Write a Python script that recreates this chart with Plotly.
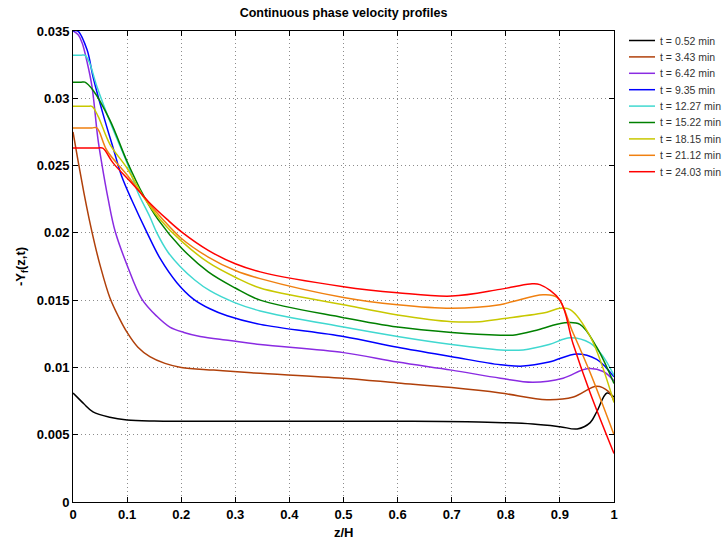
import plotly.graph_objects as go

# Legend labels (sampling times)
series_names = ["t = 0.52 min", "t = 3.43 min", "t = 6.42 min", "t = 9.35 min",
                "t = 12.27 min", "t = 15.22 min", "t = 18.15 min", "t = 21.12 min",
                "t = 24.03 min"]
series_colors = ["#000000", "#b0400a", "#8a2be2", "#0000ff", "#40d8d0",
                 "#008000", "#c8c800", "#f08010", "#ff0000"]

# Profiles: z/H positions and -Y_f(z,t) values for each time
z_052 = [0, 0.01, 0.02, 0.037, 0.068, 0.1, 0.15, 0.2, 0.4, 0.6, 0.75, 0.85, 0.9, 0.932, 0.956, 0.968, 0.987, 1.0]
v_052 = [0.0081, 0.0077, 0.0073, 0.0067, 0.0063, 0.0061, 0.00602, 0.006, 0.006, 0.006, 0.00595, 0.0058, 0.0056, 0.00543, 0.0059, 0.0067, 0.0081, 0.0078]

z_343 = [0, 0.01, 0.02, 0.03, 0.04, 0.05, 0.068, 0.085, 0.1, 0.12, 0.142, 0.17, 0.2, 0.26, 0.33, 0.5, 0.6, 0.7, 0.79, 0.876, 0.925, 0.968, 0.99, 1.0]
v_343 = [0.0275, 0.0252, 0.0230, 0.0210, 0.0192, 0.0176, 0.0152, 0.0137, 0.0126, 0.0115, 0.0108, 0.0103, 0.0100, 0.0098, 0.0096, 0.0092, 0.00885, 0.0085, 0.0081, 0.0076, 0.0078, 0.0086, 0.0082, 0.0075]

z_642 = [0, 0.01, 0.017, 0.026, 0.035, 0.046, 0.053, 0.065, 0.078, 0.1, 0.127, 0.155, 0.179, 0.205, 0.235, 0.29, 0.346, 0.5, 0.6, 0.7, 0.79, 0.85, 0.906, 0.95, 0.98, 1.0]
v_642 = [0.035, 0.0347, 0.0341, 0.0327, 0.0309, 0.027, 0.0252, 0.0225, 0.0201, 0.0176, 0.0151, 0.0138, 0.0130, 0.0126, 0.0123, 0.0120, 0.0117, 0.0111, 0.0104, 0.0098, 0.0092, 0.0089, 0.0092, 0.0099, 0.0097, 0.009]

z_935 = [0, 0.009, 0.026, 0.037, 0.055, 0.075, 0.09, 0.109, 0.137, 0.161, 0.192, 0.222, 0.253, 0.285, 0.346, 0.5, 0.6, 0.7, 0.79, 0.832, 0.88, 0.932, 0.968, 0.985, 1.0]
v_935 = [0.035, 0.035, 0.0336, 0.0316, 0.0289, 0.0262, 0.0242, 0.0224, 0.0200, 0.0181, 0.0163, 0.0151, 0.01436, 0.01384, 0.0132, 0.0123, 0.0115, 0.0108, 0.0102, 0.0101, 0.0104, 0.0110, 0.0106, 0.0100, 0.0093]

z_1227 = [0, 0.015, 0.022, 0.03, 0.044, 0.074, 0.1, 0.12, 0.142, 0.155, 0.175, 0.198, 0.225, 0.253, 0.3, 0.346, 0.5, 0.6, 0.7, 0.79, 0.832, 0.88, 0.919, 0.956, 0.98, 1.0]
v_1227 = [0.0332, 0.0332, 0.0332, 0.0327, 0.0309, 0.0277, 0.0252, 0.0230, 0.0212, 0.020, 0.0186, 0.0175, 0.0165, 0.0157, 0.0148, 0.0142, 0.0130, 0.0123, 0.0117, 0.0113, 0.0113, 0.0117, 0.0122, 0.0118, 0.0108, 0.0094]

z_1522 = [0, 0.015, 0.022, 0.037, 0.068, 0.1, 0.13, 0.157, 0.2, 0.25, 0.3, 0.346, 0.5, 0.6, 0.7, 0.79, 0.813, 0.86, 0.906, 0.937, 0.968, 1.0]
v_1522 = [0.0312, 0.0312, 0.0312, 0.0306, 0.0284, 0.0253, 0.0228, 0.021, 0.0189, 0.0171, 0.0159, 0.0150, 0.0137, 0.0130, 0.0126, 0.0124, 0.0124, 0.0128, 0.0133, 0.0132, 0.0115, 0.0088]

z_1815 = [0, 0.027, 0.035, 0.046, 0.068, 0.1, 0.13, 0.161, 0.2, 0.25, 0.3, 0.346, 0.5, 0.6, 0.7, 0.752, 0.79, 0.876, 0.9, 0.919, 0.956, 1.0]
v_1815 = [0.0294, 0.0294, 0.0294, 0.0287, 0.0266, 0.0248, 0.0227, 0.021, 0.0194, 0.0178, 0.0167, 0.0159, 0.01466, 0.0139, 0.0134, 0.0134, 0.0136, 0.0141, 0.0144, 0.0143, 0.0123, 0.0074]

z_2112 = [0, 0.035, 0.044, 0.063, 0.1, 0.13, 0.166, 0.2, 0.25, 0.3, 0.346, 0.5, 0.6, 0.7, 0.789, 0.813, 0.869, 0.895, 0.924, 0.956, 1.0]
v_2112 = [0.0278, 0.0278, 0.0278, 0.0261, 0.0243, 0.0227, 0.021, 0.0196, 0.0182, 0.0172, 0.0166, 0.0152, 0.01466, 0.0144, 0.01466, 0.0149, 0.0154, 0.0152, 0.0126, 0.0096, 0.005]

z_2403 = [0, 0.045, 0.055, 0.074, 0.111, 0.14, 0.174, 0.203, 0.25, 0.3, 0.346, 0.5, 0.6, 0.7, 0.789, 0.845, 0.863, 0.9, 0.924, 0.956, 1.0]
v_2403 = [0.0263, 0.0263, 0.0263, 0.0252, 0.0236, 0.0223, 0.021, 0.0200, 0.0187, 0.0177, 0.0171, 0.0160, 0.01555, 0.0153, 0.0158, 0.0162, 0.01615, 0.0150, 0.0118, 0.0081, 0.0036]

profiles_z = [z_052, z_343, z_642, z_935, z_1227, z_1522, z_1815, z_2112, z_2403]
profiles_v = [v_052, v_343, v_642, v_935, v_1227, v_1522, v_1815, v_2112, v_2403]

# Axis ticks
x_ticks = [0, 0.1, 0.2, 0.3, 0.4, 0.5, 0.6, 0.7, 0.8, 0.9, 1]
x_labels = ["0", "0.1", "0.2", "0.3", "0.4", "0.5", "0.6", "0.7", "0.8", "0.9", "1"]
y_ticks = [0, 0.005, 0.01, 0.015, 0.02, 0.025, 0.03, 0.035]
y_labels = ["0", "0.005", "0.01", "0.015", "0.02", "0.025", "0.03", "0.035"]

W, H = 726, 545
L, R, T, B = 73, 112, 31, 43
PW, PH = W - L - R, H - T - B


def px_to_paper_x(px):
    return (px - L) / PW


def px_to_paper_y(py):
    return (H - B - py) / PH


fig = go.Figure()
for name, color, zs, vs in zip(series_names, series_colors, profiles_z, profiles_v):
    fig.add_trace(go.Scatter(
        x=zs, y=vs, name=name, mode="lines", showlegend=False,
        line=dict(color=color, width=1.5, shape="spline", smoothing=1.0),
    ))

# Compact legend to the right of the axes: short line sample + label
LEG_LINE_X0, LEG_LINE_X1, LEG_TEXT_X = 629, 655, 658
LEG_TOP, LEG_STEP = 40.5, 16.4
for i, (name, color) in enumerate(zip(series_names, series_colors)):
    yy = px_to_paper_y(LEG_TOP + i * LEG_STEP)
    fig.add_shape(type="line", xref="paper", yref="paper",
                  x0=px_to_paper_x(LEG_LINE_X0), x1=px_to_paper_x(LEG_LINE_X1),
                  y0=yy, y1=yy, line=dict(color=color, width=1.5))
    fig.add_annotation(text=name, xref="paper", yref="paper",
                       x=px_to_paper_x(LEG_TEXT_X), y=yy, xanchor="left", yanchor="middle",
                       showarrow=False,
                       font=dict(family="Liberation Sans", size=10.5, color="#333333"))

axis_common = dict(
    showline=True, linecolor="#000000", linewidth=1, mirror="ticks",
    ticks="inside", ticklen=5, tickcolor="#000000",
    showgrid=True, gridcolor="#8c8c8c", griddash="1px,3px", gridwidth=1,
    zeroline=False,
    tickfont=dict(family="Liberation Sans", size=13, color="#000000", weight="bold"),
)

# x-axis title placed just under the tick labels
fig.add_annotation(text="<b>z/H</b>", xref="paper", yref="paper",
                   x=0.5, y=px_to_paper_y(532), xanchor="center", yanchor="middle",
                   showarrow=False,
                   font=dict(family="Liberation Sans", size=13, color="#000000"))

fig.update_layout(
    width=W, height=H,
    margin=dict(l=L, r=R, t=T, b=B, autoexpand=False),
    paper_bgcolor="#ffffff", plot_bgcolor="#ffffff",
    showlegend=False,
    title=dict(text="<b>Continuous phase velocity profiles</b>",
               x=(L + (W - R)) / 2 / W, xanchor="center", y=1 - 13 / H, yanchor="middle",
               font=dict(family="Liberation Sans", size=12.5, color="#000000")),
    xaxis=dict(range=[0, 1], tickvals=x_ticks, ticktext=x_labels, **axis_common),
    yaxis=dict(range=[0, 0.035], tickvals=y_ticks, ticktext=y_labels,
               title=dict(text="<b>-Y<sub>f</sub>(z,t)</b>", standoff=8,
                          font=dict(family="Liberation Sans", size=13, color="#000000")),
               **axis_common),
)

fig.write_html("out.html")
